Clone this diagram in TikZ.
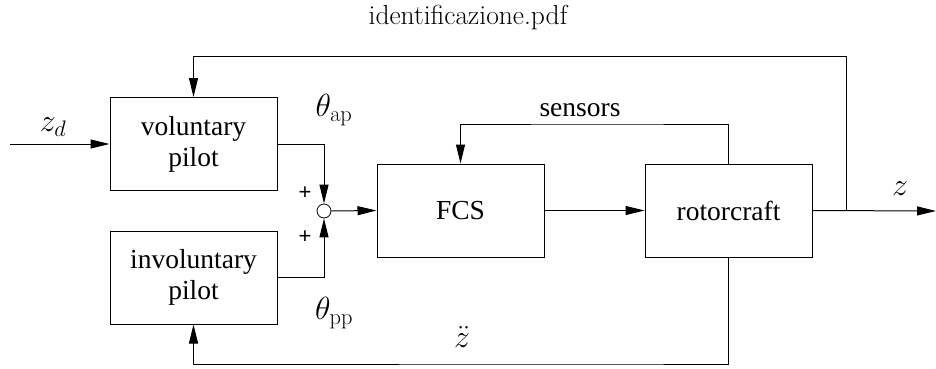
\RequirePackage{fix-cm}
\documentclass[tikz,border=0pt]{standalone}
\usepackage[no-math]{fontspec}
\setmainfont{Liberation Serif}
\newfontfamily\lmr{Latin Modern Roman}
\newfontfamily\hv{Liberation Sans}
\usetikzlibrary{arrows.meta,positioning}
\begin{document}
\begin{tikzpicture}[x=1pt,y=-1pt,
  line width=1pt,
  blk/.style={draw,minimum width=167pt,minimum height=93pt,inner sep=0pt,align=center,
    font=\fontsize{27.5}{31}\selectfont},
  arr/.style={-{Triangle[length=19pt,width=9pt]}},
  lbl/.style={font=\fontsize{32}{36}\selectfont,inner sep=0pt},
  pl/.style={font=\hv\fontsize{22}{24}\selectfont,inner sep=0pt}]
\useasboundingbox (0,0) rectangle (936,369);
\node[font=\lmr\fontsize{27.5}{31}\selectfont,inner sep=0pt] (title) at (468,18) {identificazione.pdf};
\node[blk] (vol) at (193.5,144) {voluntary\\pilot};
\node[blk] (inv) at (193.5,277.5) {involuntary\\pilot};
\node[blk] (fcs) at (460.5,210.5) {FCS};
\node[blk] (rot) at (728.5,210.5) {rotorcraft};
\node[draw,circle,minimum size=14pt,inner sep=0pt,line width=0.8pt] (sum) at (324,211) {};
\coordinate (in) at (10,144);
\coordinate (out) at (936,211);
\coordinate (br) at (846,211);
\coordinate (top) at (846,57);
\coordinate (sens) at (600,124);
\coordinate (bot) at (600,364);
% connectors
\draw[arr] (in) -- (vol.west);
\draw[arr] (vol.east) -| (sum.north);
\draw[arr] (inv.east) -| (sum.south);
\draw[arr] (sum.east) -- (fcs.west);
\draw[arr] (fcs.east) -- (rot.west);
\draw[arr] (rot.east) -- (out);
\draw[arr] (br) -- (top) -| (vol.north);
\draw[arr] (rot.north) |- (sens) -| (fcs.north);
\draw[arr] (rot.south) |- (bot) -| (inv.south);
% labels
\node[lbl] (zd) at (53,127) {$z_d$};
\node[lbl] (tap) at (334,110) {$\theta_{\mathrm{ap}}$};
\node[lbl] (tpp) at (334,313) {$\theta_{\mathrm{pp}}$};
\node[pl] (p1) at (305,193) {+};
\node[pl] (p2) at (305,237) {+};
\node[lbl,font=\fontsize{27.5}{31}\selectfont] (sl) at (580,110) {sensors};
\node[lbl] (zl) at (900,189) {$z$};
\node[lbl] (zdd) at (462,337) {$\ddot z$};
\end{tikzpicture}
\end{document}
